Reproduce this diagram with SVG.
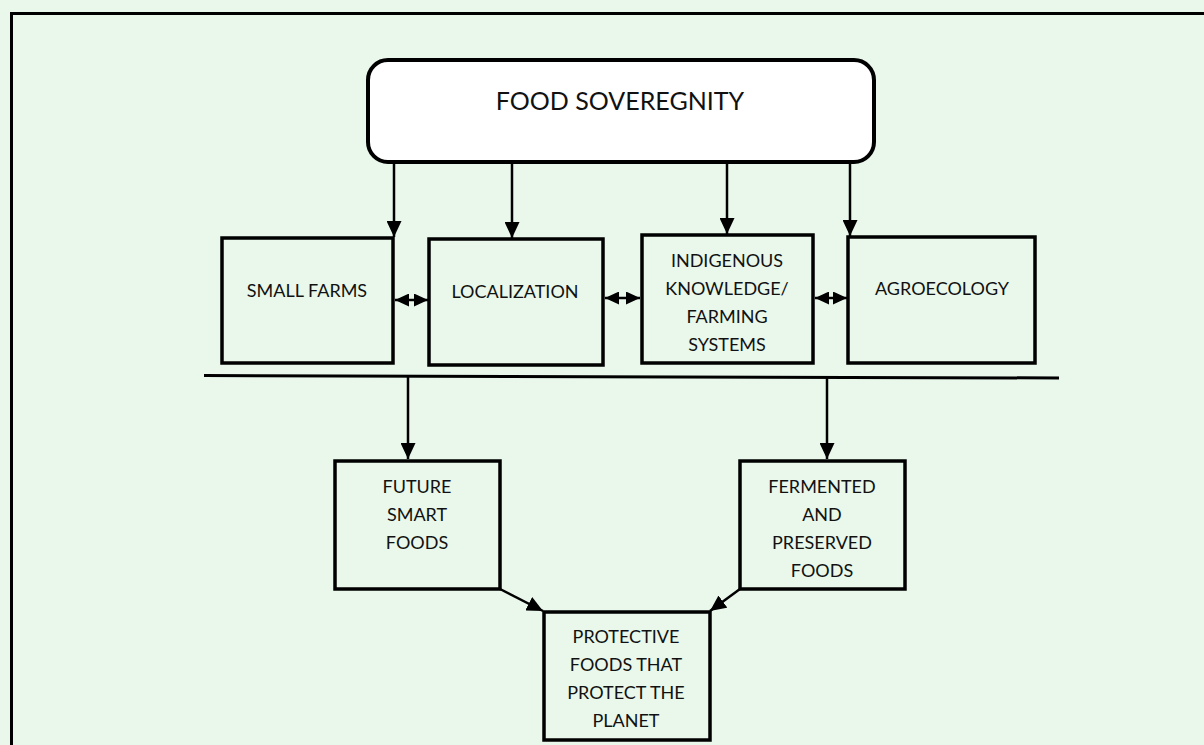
<svg xmlns="http://www.w3.org/2000/svg" width="1204" height="745" viewBox="0 0 1204 745">
<defs>
<style>
.box{fill:none;stroke:#000;stroke-width:3.5}
.top{fill:#fff;stroke:#000;stroke-width:4}
.t{font-family:Lato,"Open Sans",sans-serif;font-size:18px;fill:#111;text-anchor:middle}
.tb{font-family:Lato,"Open Sans",sans-serif;font-size:25px;fill:#111;text-anchor:middle}
.c{fill:none;stroke:#000;stroke-width:2.5}
</style>
<marker id="ah" markerUnits="userSpaceOnUse" markerWidth="17" markerHeight="15" refX="16" refY="7.5" orient="auto-start-reverse" viewBox="0 0 17 15">
<path d="M0,0 L16,7.5 L0,15 Z" fill="#000"/>
</marker>
<marker id="dh" markerUnits="userSpaceOnUse" markerWidth="14" markerHeight="13" refX="14" refY="6.5" orient="auto-start-reverse" viewBox="0 0 14 13">
<path d="M0,0 L14,6.5 L0,13 Z" fill="#000"/>
</marker>
</defs>
<rect width="1204" height="745" fill="#E9F8EB"/>
<rect x="11.5" y="13.5" width="1300" height="800" fill="none" stroke="#000" stroke-width="3"/>

<g id="food-sovereignty">
<rect class="top" x="368" y="60" width="506" height="102" rx="20"/>
<text class="tb" x="620" y="110">FOOD SOVEREGNITY</text>
</g>
<g id="small-farms">
<rect class="box" x="222" y="238" width="171" height="125"/>
<text class="t" x="307" y="297">SMALL FARMS</text>
</g>
<g id="localization">
<rect class="box" x="429" y="239" width="174" height="126"/>
<text class="t" x="515" y="298">LOCALIZATION</text>
</g>
<g id="indigenous">
<rect class="box" x="642" y="235" width="171" height="128"/>
<text class="t" x="727" y="267">INDIGENOUS</text>
<text class="t" x="727" y="295">KNOWLEDGE/</text>
<text class="t" x="727" y="323">FARMING</text>
<text class="t" x="727" y="351">SYSTEMS</text>
</g>
<g id="agroecology">
<rect class="box" x="848" y="237" width="187" height="126"/>
<text class="t" x="942" y="295">AGROECOLOGY</text>
</g>
<g id="future-smart-foods">
<rect class="box" x="335" y="461" width="165" height="128"/>
<text class="t" x="417" y="493">FUTURE</text>
<text class="t" x="417" y="521">SMART</text>
<text class="t" x="417" y="549">FOODS</text>
</g>
<g id="fermented">
<rect class="box" x="740" y="461" width="165" height="128"/>
<text class="t" x="822" y="493">FERMENTED</text>
<text class="t" x="822" y="521">AND</text>
<text class="t" x="822" y="549">PRESERVED</text>
<text class="t" x="822" y="577">FOODS</text>
</g>
<g id="protective">
<rect class="box" x="544" y="612" width="166" height="128"/>
<text class="t" x="626" y="643">PROTECTIVE</text>
<text class="t" x="626" y="671">FOODS THAT</text>
<text class="t" x="626" y="699">PROTECT THE</text>
<text class="t" x="626" y="727">PLANET</text>
</g>

<g id="connectors">
<line class="c" x1="394" y1="162" x2="394" y2="237" marker-end="url(#ah)"/>
<line class="c" x1="512" y1="162" x2="512" y2="238" marker-end="url(#ah)"/>
<line class="c" x1="727" y1="162" x2="727" y2="234" marker-end="url(#ah)"/>
<line class="c" x1="850" y1="162" x2="850" y2="236" marker-end="url(#ah)"/>
<line class="c" x1="395" y1="300" x2="428" y2="300" marker-start="url(#dh)" marker-end="url(#dh)"/>
<line class="c" x1="605" y1="298" x2="640" y2="298" marker-start="url(#dh)" marker-end="url(#dh)"/>
<line class="c" x1="815" y1="298" x2="847" y2="298" marker-start="url(#dh)" marker-end="url(#dh)"/>
<line x1="204" y1="375.5" x2="1059" y2="378" stroke="#000" stroke-width="3"/>
<line class="c" x1="408" y1="377" x2="408" y2="459" marker-end="url(#ah)"/>
<line class="c" x1="827" y1="377" x2="827" y2="459" marker-end="url(#ah)"/>
<line class="c" x1="500" y1="589" x2="543" y2="611" marker-end="url(#ah)"/>
<line class="c" x1="740" y1="589" x2="710" y2="611" marker-end="url(#ah)"/>
</g>
</svg>
